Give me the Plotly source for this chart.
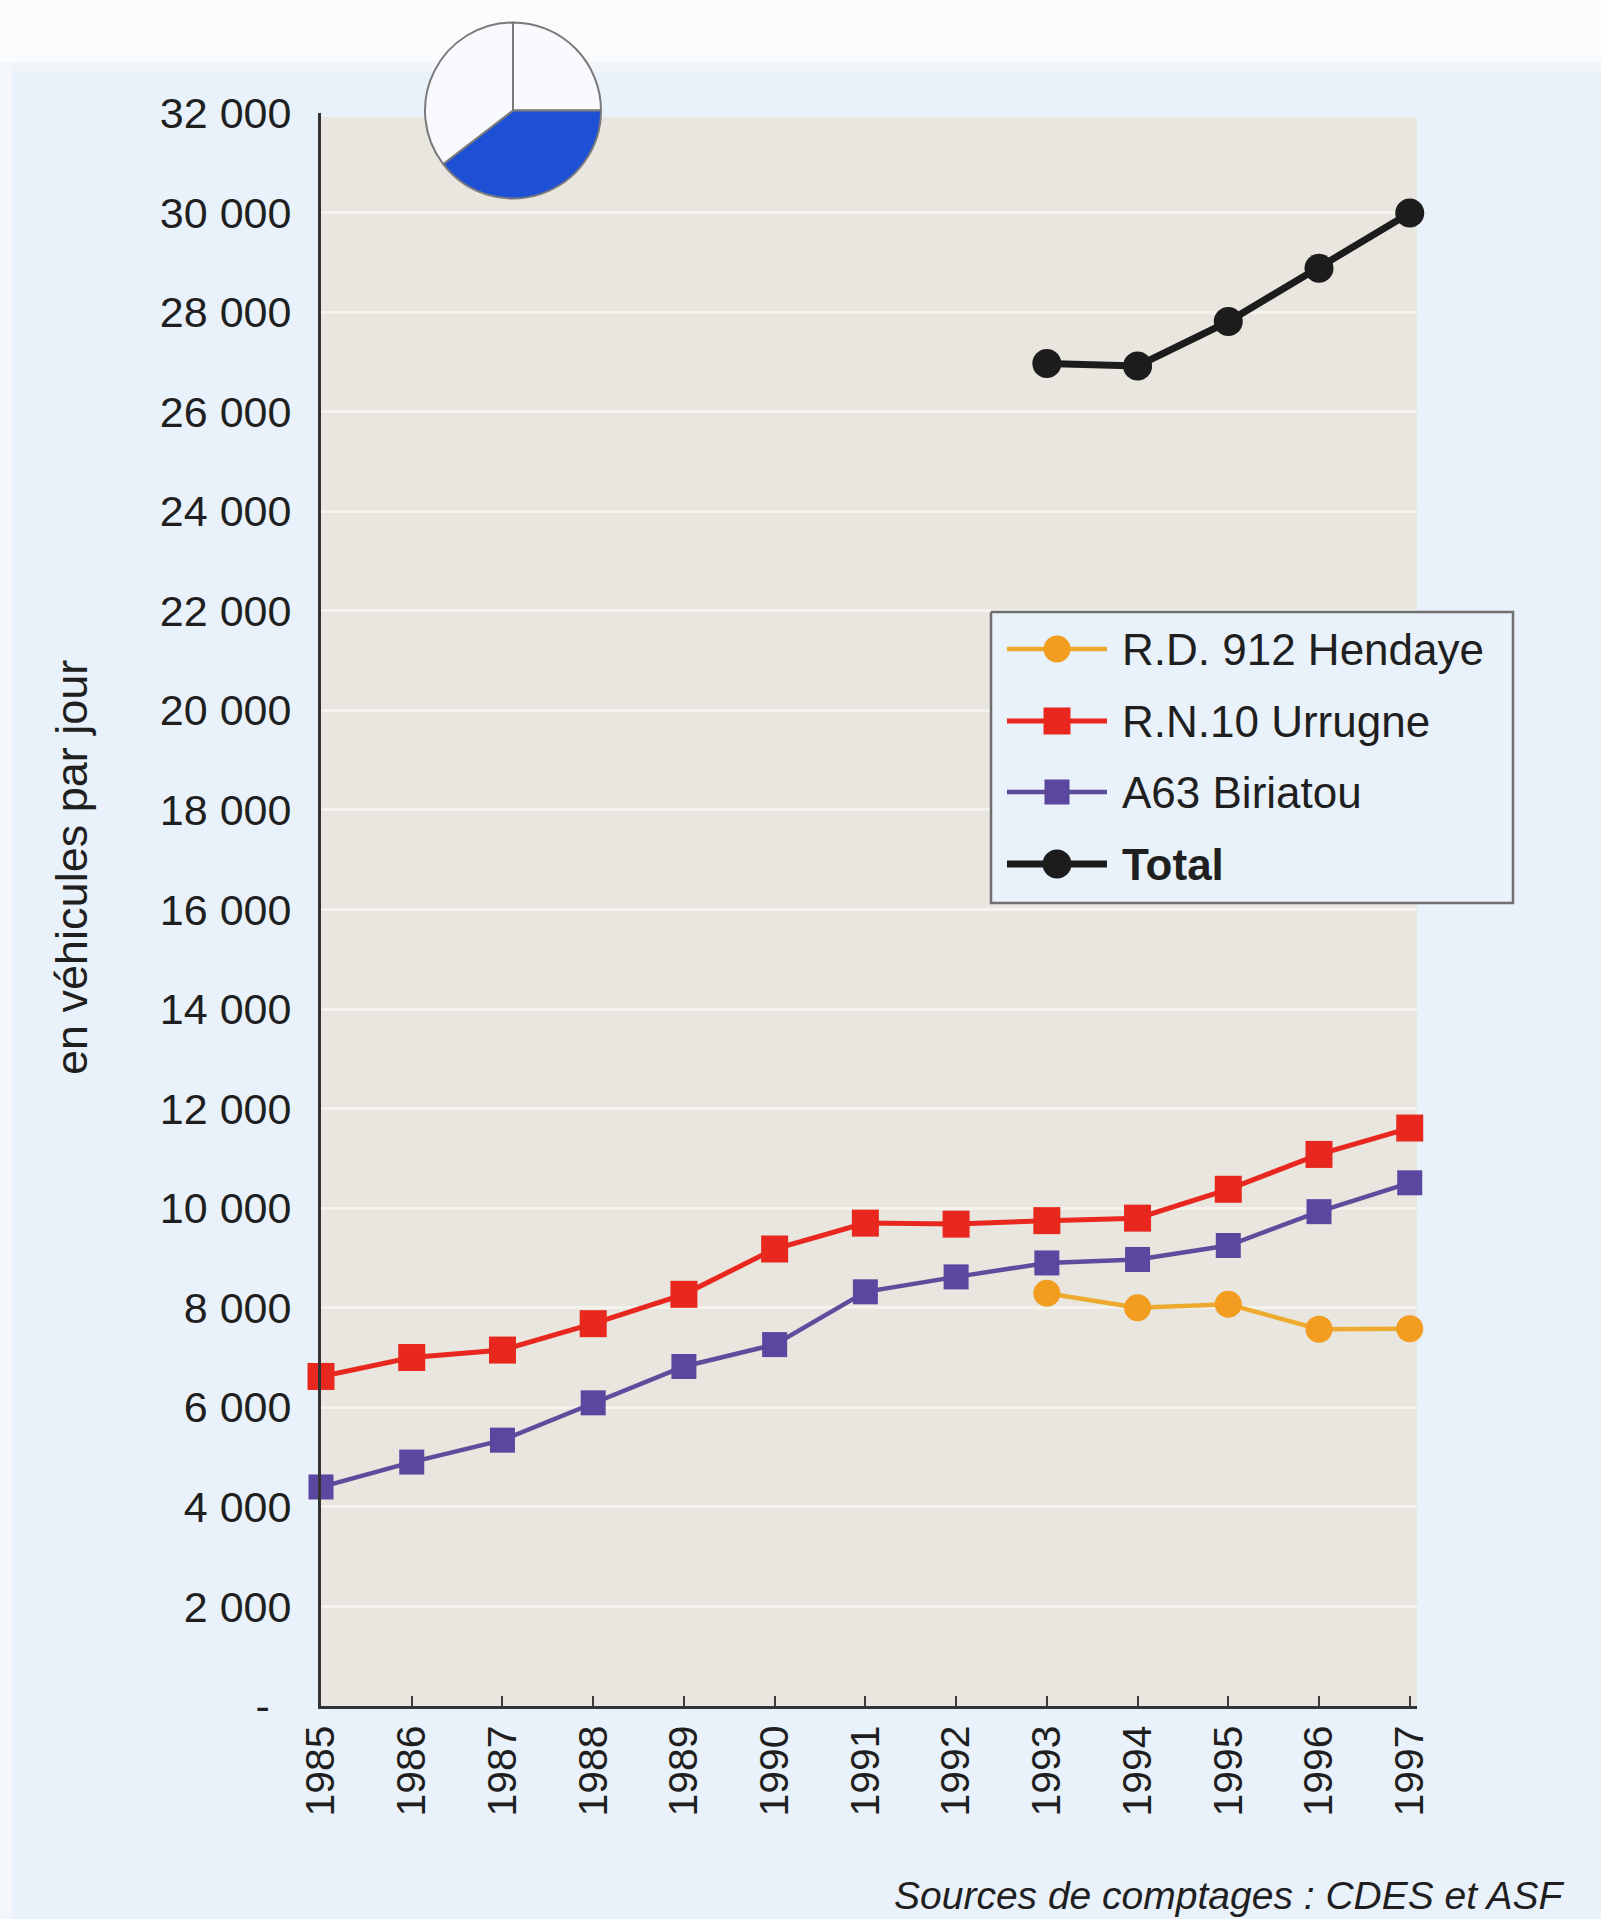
import plotly.graph_objects as go

W, H = 1601, 1919

# ---- data -------------------------------------------------------------
years = list(range(1985, 1998))
rd912_hendaye = [None] * 8 + [8290, 8000, 8070, 7570, 7580]
rn10_urrugne = [6620, 7000, 7150, 7680, 8270, 9180, 9700, 9680, 9750, 9800, 10380, 11080, 11610]
a63_biriatou = [4400, 4900, 5340, 6090, 6820, 7260, 8320, 8620, 8900, 8970, 9250, 9930, 10510]
total = [None] * 8 + [26970, 26920, 27810, 28880, 29990]

series_names = ["R.D. 912 Hendaye", "R.N.10 Urrugne", "A63 Biriatou", "Total"]
series_values = [rd912_hendaye, rn10_urrugne, a63_biriatou, total]

y_ticks = list(range(0, 32001, 2000))
y_ticktext = ["-\u2002"] + [f"{v:,}".replace(",", " ") for v in y_ticks[1:]]
x_ticktext = [str(y) for y in years]

locator_labels = ["nord-est", "sud", "ouest"]
locator_shares = [90, 142.5, 127.5]

source_text = "Sources de comptages : CDES et ASF"
y_title = "en véhicules par jour"

# ---- styling ------------------------------------------------------------
FONT = "Liberation Sans, Arial, Helvetica, sans-serif"
TXT = "#1f1f1f"
PANEL = "#e9f1fa"
PLOT_BG = "#e8e6de"
GRID = "#f5f3ee"

styles = [
    dict(line=dict(color="#eeaa2e", width=4.5),
         marker=dict(symbol="circle", size=27, color="#f29d1f")),
    dict(line=dict(color="#e8281e", width=5),
         marker=dict(symbol="square", size=27, color="#e8281e")),
    dict(line=dict(color="#5d4d9c", width=4.5),
         marker=dict(symbol="square", size=25, color="#5a47a0")),
    dict(line=dict(color="#1c1c1c", width=7),
         marker=dict(symbol="circle", size=29, color="#1c1c1c")),
]

# plot area in pixels
PL, PR, PT, PB = 321, 1417, 113, 1706

fig = go.Figure()

for name, vals, st in zip(series_names, series_values, styles):
    fig.add_trace(go.Scatter(
        x=years, y=vals, name=name, mode="lines+markers",
        line=st["line"], marker=st["marker"], cliponaxis=False,
        showlegend=False, connectgaps=False,
    ))

# ---- legend drawn on a pixel-space helper axis ---------------------------
LX0, LX1, LY0, LY1 = 991, 1513, 612, 903
rows = [649, 721, 792, 864]
key_x0, key_x1, key_mid, text_x = 1007, 1107, 1057, 1120

fig.add_trace(go.Scatter(
    x=[LX0, LX1, LX1, LX0, LX0], y=[LY0, LY0, LY1, LY1, LY0],
    mode="lines", fill="toself", fillcolor=PANEL,
    line=dict(color="#707070", width=2.5),
    xaxis="x2", yaxis="y2", showlegend=False, hoverinfo="skip",
))
for name, st, ry in zip(series_names, styles, rows):
    fig.add_trace(go.Scatter(
        x=[key_x0, key_x1], y=[ry, ry], mode="lines", line=st["line"],
        xaxis="x2", yaxis="y2", showlegend=False, hoverinfo="skip",
    ))
    fig.add_trace(go.Scatter(
        x=[key_mid], y=[ry], mode="markers", marker=st["marker"],
        xaxis="x2", yaxis="y2", showlegend=False, hoverinfo="skip",
    ))
    label = f"<b>{name}</b>" if name == "Total" else name
    fig.add_annotation(
        x=text_x / W, y=1 - ry / H, xref="paper", yref="paper",
        text=label, showarrow=False, xanchor="left", yanchor="middle",
        font=dict(family=FONT, size=44, color=TXT),
    )

# ---- locator pie ----------------------------------------------------------
fig.add_trace(go.Pie(
    labels=locator_labels, values=locator_shares, sort=False,
    direction="clockwise", rotation=0, textinfo="none", hoverinfo="skip",
    marker=dict(colors=["#f8fafd", "#1d50d4", "#f8fafd"],
                line=dict(color="#7a7a7a", width=2)),
    domain=dict(x=[425 / W, 601 / W], y=[1 - 199 / H, 1 - 22 / H]),
    showlegend=False,
))

# ---- background shapes ------------------------------------------------------
shapes = [
    dict(type="rect", xref="paper", yref="paper", x0=0, x1=1,
         y0=1 - 62 / H, y1=1, fillcolor="#fbfcfd", line=dict(width=0), layer="below"),
    dict(type="rect", xref="paper", yref="paper", x0=0, x1=1,
         y0=1 - 72 / H, y1=1 - 62 / H, fillcolor="#f1f5fa", line=dict(width=0), layer="below"),
    dict(type="rect", xref="paper", yref="paper", x0=0, x1=12 / W,
         y0=0, y1=1 - 62 / H, fillcolor="#f3f7fb", line=dict(width=0), layer="below"),
    dict(type="rect", xref="paper", yref="paper", x0=PL / W, x1=PR / W,
         y0=1 - PB / H, y1=1 - (PT + 4) / H, fillcolor=PLOT_BG,
         line=dict(width=0), layer="below"),
]

fig.add_annotation(
    x=71 / W, y=1 - 868 / H, xref="paper", yref="paper", text=y_title,
    textangle=-90, showarrow=False, xanchor="center", yanchor="middle",
    font=dict(family=FONT, size=45, color=TXT),
)
fig.add_annotation(
    x=1567 / W, y=1 - 1895 / H, xref="paper", yref="paper", text=f"<i>{source_text}</i>",
    showarrow=False, xanchor="right", yanchor="middle",
    font=dict(family=FONT, size=39, color=TXT),
)

fig.update_layout(
    width=W, height=H,
    margin=dict(l=0, r=0, t=0, b=0, pad=0, autoexpand=False),
    paper_bgcolor=PANEL, plot_bgcolor="rgba(0,0,0,0)",
    shapes=shapes,
    font=dict(family=FONT, color=TXT),
    xaxis=dict(
        domain=[PL / W, PR / W], range=[1985, 1997.08], automargin=False,
        tickvals=years, ticktext=x_ticktext, tickangle=-90,
        tickfont=dict(family=FONT, size=41, color=TXT),
        ticks="inside", ticklen=10, tickwidth=2, tickcolor="#3a3a3a",
        showline=True, linecolor="#333333", linewidth=3,
        showgrid=False, zeroline=False, ticklabelstandoff=0,
    ),
    yaxis=dict(
        domain=[1 - PB / H, 1 - PT / H], range=[0, 32000], automargin=False,
        tickvals=y_ticks, ticktext=y_ticktext,
        tickfont=dict(family=FONT, size=43, color=TXT),
        ticks="", showline=True, linecolor="#333333", linewidth=3,
        showgrid=True, gridcolor=GRID, gridwidth=3, zeroline=False,
        ticklabelstandoff=18,
    ),
    xaxis2=dict(domain=[0, 1], range=[0, W], visible=False, anchor="y2",
                fixedrange=True, automargin=False),
    yaxis2=dict(domain=[0, 1], range=[H, 0], visible=False, anchor="x2",
                fixedrange=True, automargin=False),
)

fig.write_html("out.html")
